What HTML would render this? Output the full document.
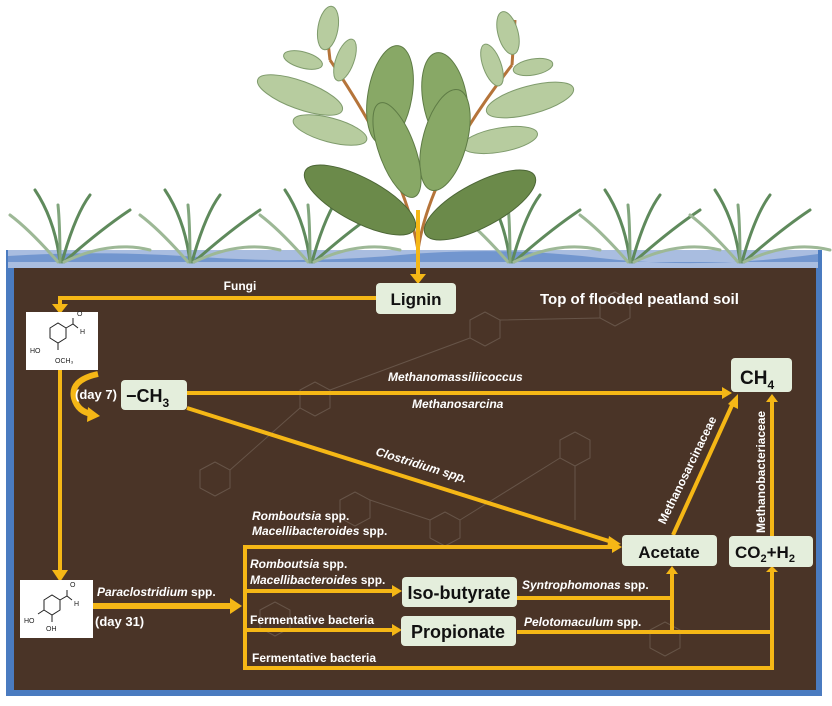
<!DOCTYPE html>
<html><head><meta charset="utf-8"><style>
html,body{margin:0;padding:0;background:#fff;}
body{width:832px;height:706px;position:relative;overflow:hidden;font-family:"Liberation Sans",Arial,sans-serif;}
svg{position:absolute;left:0;top:0;}
</style></head><body>
<svg width="832" height="706" viewBox="0 0 832 706" xmlns="http://www.w3.org/2000/svg" font-family="Liberation Sans, Arial, sans-serif">
<defs>
<marker id="ah" markerWidth="8" markerHeight="8" refX="4" refY="4" orient="auto" markerUnits="userSpaceOnUse"><path d="M0,0 L8,4 L0,8 z" fill="#f5b716"/></marker>
</defs>
<!-- soil -->
<rect x="6" y="250" width="816" height="446" fill="#4a7bc0"/>
<rect x="8" y="250" width="810" height="18" fill="#a9bde0"/>
<path d="M8,256 Q100,250 200,257 T400,255 T600,258 T818,254 L818,262 L8,262z" fill="#5b86c8" opacity="0.7"/>
<rect x="14" y="268" width="802" height="422" fill="#4a3427"/>
<!-- faint chemical structure hint -->
<g stroke="#7a6a5e" stroke-width="1" fill="none" opacity="0.6">
<polygon points="200,470 215,462 230,470 230,488 215,496 200,488"/>
<polygon points="300,390 315,382 330,390 330,408 315,416 300,408"/>
<polygon points="470,320 485,312 500,320 500,338 485,346 470,338"/>
<polygon points="560,440 575,432 590,440 590,458 575,466 560,458"/>
<polygon points="340,500 355,492 370,500 370,518 355,526 340,518"/>
<polygon points="430,520 445,512 460,520 460,538 445,546 430,538"/>
<polygon points="600,300 615,292 630,300 630,318 615,326 600,318"/>
<polygon points="650,630 665,622 680,630 680,648 665,656 650,648"/>
<polygon points="260,610 275,602 290,610 290,628 275,636 260,628"/>
<path d="M230,470 L300,408 M330,390 L470,338 M500,320 L600,318 M370,500 L430,520 M460,520 L560,458 M575,466 L575,520"/>
</g>
<!-- grasses -->
<g stroke-width="3" fill="none" stroke-linecap="round">
<g id="g1" stroke="#5f8a5c">
<path d="M60,262 Q55,220 35,190"/><path d="M62,262 Q75,215 90,195"/><path d="M58,262 Q30,230 10,215" stroke="#9db896"/><path d="M64,262 Q100,230 130,210"/><path d="M60,262 Q60,225 58,205" stroke="#82a67e"/><path d="M64,262 Q110,240 150,250" stroke="#9db896"/>
</g>
<use href="#g1" x="130"/><use href="#g1" x="250"/><use href="#g1" x="450"/><use href="#g1" x="570"/><use href="#g1" x="680"/>
</g>
<!-- plant -->
<g>
<path d="M418,250 Q405,170 330,60 M418,250 Q430,170 512,65 M330,60 L325,15 M512,65 L515,20" stroke="#b5743a" stroke-width="3" fill="none"/>
<g fill="#b7cc9f" stroke="#7f9b6c" stroke-width="1">
<ellipse cx="300" cy="95" rx="45" ry="14" transform="rotate(20 300 95)"/>
<ellipse cx="330" cy="130" rx="38" ry="12" transform="rotate(15 330 130)"/>
<ellipse cx="328" cy="28" rx="10" ry="22" transform="rotate(10 328 28)"/>
<ellipse cx="345" cy="60" rx="9" ry="22" transform="rotate(20 345 60)"/>
<ellipse cx="303" cy="60" rx="20" ry="8" transform="rotate(15 303 60)"/>
<ellipse cx="530" cy="100" rx="45" ry="14" transform="rotate(-15 530 100)"/>
<ellipse cx="500" cy="140" rx="38" ry="12" transform="rotate(-10 500 140)"/>
<ellipse cx="508" cy="33" rx="10" ry="22" transform="rotate(-15 508 33)"/>
<ellipse cx="492" cy="65" rx="9" ry="22" transform="rotate(-20 492 65)"/>
<ellipse cx="533" cy="67" rx="20" ry="8" transform="rotate(-10 533 67)"/>
</g>
<g fill="#88a866" stroke="#5e7b45" stroke-width="1">
<ellipse cx="390" cy="95" rx="22" ry="50" transform="rotate(10 390 95)"/>
<ellipse cx="445" cy="100" rx="22" ry="48" transform="rotate(-10 445 100)"/>
<ellipse cx="445" cy="140" rx="22" ry="52" transform="rotate(15 445 140)"/>
<ellipse cx="397" cy="150" rx="18" ry="50" transform="rotate(-20 397 150)"/>
</g>
<g fill="#6b8a4a" stroke="#4c6636" stroke-width="1">
<ellipse cx="360" cy="200" rx="62" ry="22" transform="rotate(28 360 200)"/>
<ellipse cx="480" cy="205" rx="62" ry="22" transform="rotate(-28 480 205)"/>
</g>
</g>
<g stroke="#f5b716" fill="none" stroke-width="4">
<!-- stem arrow -->
<line x1="418" y1="210" x2="418" y2="276"/>
<!-- fungi -->
<polyline points="378,298 60,298 60,306"/>
<!-- vertical -->
<line x1="60" y1="370" x2="60" y2="572"/>
<!-- CH3 to CH4 -->
<line x1="187" y1="393" x2="724" y2="393"/>
<!-- diagonal -->
<line x1="187" y1="408" x2="612" y2="542"/>
<!-- Paraclostridium -->
<line x1="93" y1="606" x2="232" y2="606" stroke-width="6"/>
<!-- branch -->
<polyline points="614,547 245,547 245,668 772,668 772,570"/>
<line x1="245" y1="591" x2="394" y2="591"/>
<line x1="245" y1="630" x2="394" y2="630"/>
<polyline points="517,598 672,598"/>
<polyline points="517,632 772,632"/>
<line x1="672" y1="632" x2="672" y2="572"/>
<line x1="673" y1="535" x2="733" y2="403"/>
<line x1="772" y1="536" x2="772" y2="400"/>
<!-- curved arrow -->
<path d="M98,374 Q70,380 74,398 Q78,412 92,414" stroke-width="6"/>
</g>
<g fill="#f5b716">
<path d="M410,274 L426,274 L418,284z"/>
<path d="M52,304 L68,304 L60,314z"/>
<path d="M52,570 L68,570 L60,582z"/>
<path d="M722,387 L732,393 L722,399z"/>
<path d="M609,536 L621,544 L607,548z"/>
<path d="M230,598 L242,606 L230,614z"/>
<path d="M612,541 L622,547 L612,553z"/>
<path d="M392,585 L402,591 L392,597z"/>
<path d="M392,624 L402,630 L392,636z"/>
<path d="M666,574 L672,566 L678,574z"/>
<path d="M766,572 L772,566 L778,572z"/>
<path d="M728,404 L738,394 L738,409z"/>
<path d="M766,402 L772,394 L778,402z"/>
<path d="M88,407 L100,416 L87,422z"/>
</g>
<!-- molecule boxes -->
<rect x="26" y="312" width="72" height="58" fill="#fff"/>
<g stroke="#222" stroke-width="1" fill="none">
<polygon points="50,328 58,323 66,328 66,338 58,343 50,338"/>
<path d="M66,328 L73,324 L78,328 M73,324 L73,318 M58,343 L58,350"/>
</g>
<text x="77" y="316" font-size="7" fill="#222">O</text><text x="80" y="334" font-size="7" fill="#222">H</text>
<text x="30" y="353" font-size="7" fill="#222">HO</text><text x="55" y="363" font-size="7" fill="#222">OCH₃</text>
<rect x="20" y="580" width="73" height="58" fill="#fff"/>
<g stroke="#222" stroke-width="1" fill="none">
<polygon points="44,600 52,595 60,600 60,610 52,615 44,610"/>
<path d="M60,600 L67,596 L72,600 M67,596 L67,590 M52,615 L52,622 M44,610 L38,614"/>
</g>
<text x="70" y="587" font-size="7" fill="#222">O</text><text x="74" y="606" font-size="7" fill="#222">H</text>
<text x="24" y="623" font-size="7" fill="#222">HO</text><text x="46" y="631" font-size="7" fill="#222">OH</text>
<!-- nodes -->
<g fill="#e4eedc">
<rect x="376" y="283" width="80" height="31" rx="4"/>
<rect x="121" y="380" width="66" height="30" rx="4"/>
<rect x="731" y="358" width="61" height="34" rx="4"/>
<rect x="622" y="535" width="95" height="31" rx="4"/>
<rect x="729" y="536" width="84" height="31" rx="4"/>
<rect x="402" y="577" width="115" height="30" rx="4"/>
<rect x="401" y="616" width="115" height="30" rx="4"/>
</g>
<g font-weight="bold" fill="#111">
<text x="416" y="305" font-size="17" text-anchor="middle">Lignin</text>
<text x="126" y="402" font-size="18">−CH<tspan font-size="12" dy="5">3</tspan></text>
<text x="740" y="384" font-size="19">CH<tspan font-size="12" dy="5">4</tspan></text>
<text x="669" y="558" font-size="17" text-anchor="middle">Acetate</text>
<text x="735" y="558" font-size="17">CO<tspan font-size="11" dy="4">2</tspan><tspan dy="-4">+H</tspan><tspan font-size="11" dy="4">2</tspan></text>
<text x="459" y="599" font-size="18" text-anchor="middle">Iso-butyrate</text>
<text x="458" y="638" font-size="18" text-anchor="middle">Propionate</text>
</g>
<g fill="#fff" font-weight="bold" font-size="12">
<text x="240" y="290" text-anchor="middle">Fungi</text>
<text x="540" y="304" font-size="15">Top of flooded peatland soil</text>
<text x="75" y="399" font-size="13">(day 7)</text>
<text x="95" y="626" font-size="13">(day 31)</text>
<text x="388" y="381" font-style="italic">Methanomassiliicoccus</text>
<text x="412" y="408" font-style="italic">Methanosarcina</text>
<text x="375" y="455" font-style="italic" transform="rotate(17 375 455)">Clostridium spp.</text>
<text x="252" y="520"><tspan font-style="italic">Romboutsia</tspan> spp.</text>
<text x="252" y="535"><tspan font-style="italic">Macellibacteroides</tspan> spp.</text>
<text x="250" y="568"><tspan font-style="italic">Romboutsia</tspan> spp.</text>
<text x="250" y="584"><tspan font-style="italic">Macellibacteroides</tspan> spp.</text>
<text x="97" y="596"><tspan font-style="italic">Paraclostridium</tspan> spp.</text>
<text x="250" y="624">Fermentative bacteria</text>
<text x="252" y="662">Fermentative bacteria</text>
<text x="522" y="589"><tspan font-style="italic">Syntrophomonas</tspan> spp.</text>
<text x="524" y="626"><tspan font-style="italic">Pelotomaculum</tspan> spp.</text>
<text x="665" y="525" transform="rotate(-64 665 525)">Methanosarcinaceae</text>
<text x="765" y="533" transform="rotate(-90 765 533)">Methanobacteriaceae</text>
</g>
</svg>
</body></html>
